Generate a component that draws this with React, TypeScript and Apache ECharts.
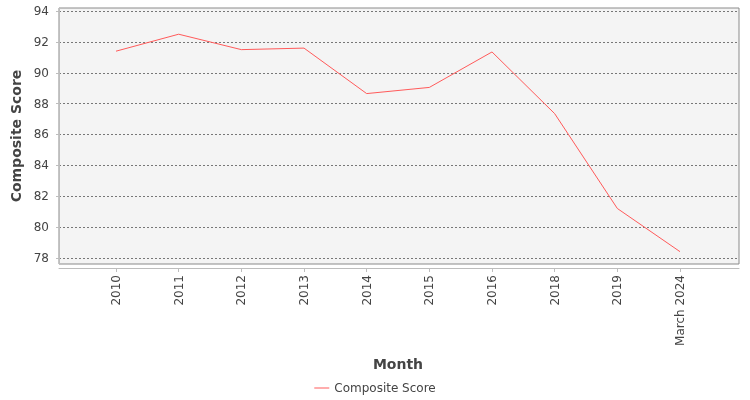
import React, { useEffect, useRef } from "react";
import * as echarts from "echarts";

const categories = ["2010", "2011", "2012", "2013", "2014", "2015", "2016", "2018", "2019", "March 2024"];
const compositeScore = [91.4, 92.5, 91.5, 91.6, 88.65, 89.05, 91.35, 87.35, 81.2, 78.4];
const seriesName = "Composite Score";
const yMin = 77.6;
const yMax = 94.2;

const FONT = "DejaVu Sans, sans-serif";

export default function App() {
  const ref = useRef<HTMLDivElement>(null);
  useEffect(() => {
    if (!ref.current) return;
    const chart = echarts.init(ref.current, undefined, { renderer: "svg" });
    chart.setOption({
      animation: false,
      textStyle: { fontFamily: FONT },
      grid: [
        {
          left: 59, top: 8, width: 680, height: 256,
          show: true, backgroundColor: "#f4f4f4", borderColor: "#8a8a8a", borderWidth: 1,
        },
        { left: 116, top: 8, width: 564, height: 256 },
      ],
      xAxis: [
        {
          gridIndex: 0, type: "value", min: 0, max: 1, offset: 4,
          axisLine: { show: true, lineStyle: { color: "#bdbdbd", width: 1 } },
          axisTick: { show: false }, axisLabel: { show: false }, splitLine: { show: false },
        },
        {
          gridIndex: 1, type: "category", data: categories, boundaryGap: false, offset: 4,
          axisLine: { show: false },
          axisTick: { show: true, length: 4, lineStyle: { color: "#bdbdbd" } },
          axisLabel: { rotate: 90, margin: 7, color: "#444", fontSize: 12, fontFamily: FONT, interval: 0 },
          splitLine: { show: false },
          name: "Month", nameLocation: "middle", nameGap: 89,
          nameTextStyle: { fontSize: 14, fontWeight: "bold", color: "#444", fontFamily: FONT },
        },
      ],
      yAxis: [
        {
          gridIndex: 0, type: "value", min: yMin, max: yMax, splitNumber: 8, offset: 4,
          axisLine: { show: true, lineStyle: { color: "#bdbdbd", width: 1 } },
          axisTick: { show: true, length: 3, lineStyle: { color: "#bdbdbd" } },
          axisLabel: { showMinLabel: false, showMaxLabel: false, margin: 6, color: "#444", fontSize: 12, fontFamily: FONT },
          splitLine: { show: true, showMinLine: false, showMaxLine: false, lineStyle: { color: "#777", width: 1, type: [2, 2] } },
          name: seriesName, nameLocation: "middle", nameGap: 23,
          nameTextStyle: { fontSize: 14, fontWeight: "bold", color: "#444", fontFamily: FONT },
        },
        { gridIndex: 1, type: "value", min: yMin, max: yMax, show: false, splitLine: { show: false } },
      ],
      legend: {
        left: "center", top: 377, icon: "rect", itemWidth: 15, itemHeight: 1, itemGap: 5,
        textStyle: { fontSize: 12, color: "#444", fontFamily: FONT },
        data: [seriesName],
      },
      series: [
        {
          name: seriesName, type: "line", xAxisIndex: 1, yAxisIndex: 1,
          data: compositeScore, symbol: "none",
          lineStyle: { color: "#ff5a5a", width: 1 }, itemStyle: { color: "#ff5a5a" },
        },
      ],
    });
    return () => chart.dispose();
  }, []);
  return <div ref={ref} style={{ position: "fixed", left: 0, top: 0, width: 750, height: 400 }} />;
}
